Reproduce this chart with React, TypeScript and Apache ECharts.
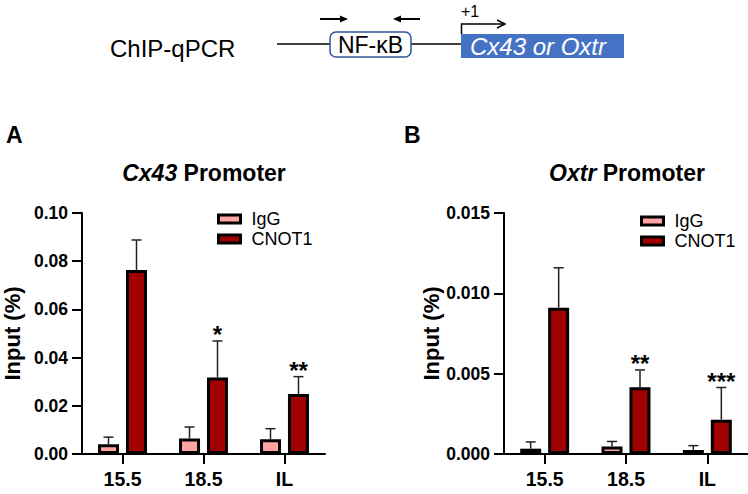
import React, { useEffect, useRef } from "react";
import * as echarts from "echarts";

const categories = ["15.5", "18.5", "IL"];
const seriesNames = ["IgG", "CNOT1"];

const cx43IgG = [0.004, 0.0064, 0.0061];
const cx43IgGErr = [0.003, 0.0048, 0.0044];
const cx43CNOT1 = [0.0763, 0.0317, 0.0249];
const cx43CNOT1Err = [0.0125, 0.0152, 0.0072];
const cx43Sig = ["", "*", "**"];

const oxtrIgG = [0.00033, 0.00047, 0.00025];
const oxtrIgGErr = [0.00042, 0.00031, 0.00027];
const oxtrCNOT1 = [0.0091, 0.00416, 0.00213];
const oxtrCNOT1Err = [0.00249, 0.00107, 0.00201];
const oxtrSig = ["", "**", "***"];

const cx43Ticks = { min: 0, max: 0.1, interval: 0.02, digits: 2 };
const oxtrTicks = { min: 0, max: 0.015, interval: 0.005, digits: 3 };

const FONT = '"Liberation Sans", Arial, Helvetica, sans-serif';
const IGG_COLOR = "#FFA3A3";
const CNOT1_COLOR = "#A00000";
const BAR_W = 21;
const BAR_OFFSET = 14;

function errSeries(axisIdx: number, vals: number[], errs: number[], offset: number, sig: string[]) {
  return {
    type: "custom",
    xAxisIndex: axisIdx,
    yAxisIndex: axisIdx,
    z: 1,
    silent: true,
    data: vals.map((v, i) => [i, v, errs[i]]),
    renderItem: (params: any, api: any) => {
      const i = api.value(0);
      const v = api.value(1);
      const e = api.value(2);
      const base = api.coord([i, v]);
      const top = api.coord([i, v + e]);
      const x = base[0] + offset;
      const children: any[] = [
        { type: "line", shape: { x1: x, y1: base[1], x2: x, y2: top[1] }, style: { stroke: "#222", lineWidth: 1.5 } },
        { type: "line", shape: { x1: x - 5, y1: top[1], x2: x + 5, y2: top[1] }, style: { stroke: "#222", lineWidth: 1.5 } },
      ];
      const s = sig[params.dataIndex];
      if (s) {
        children.push({
          type: "text",
          x: x,
          y: top[1] + 6,
          style: { text: s, fill: "#000", font: `bold 24px ${FONT}`, align: "center", verticalAlign: "bottom" },
        });
      }
      return { type: "group", children };
    },
  };
}

function barSeries(axisIdx: number, name: string, vals: number[], color: string) {
  return {
    type: "bar",
    name,
    xAxisIndex: axisIdx,
    yAxisIndex: axisIdx,
    data: vals,
    barWidth: BAR_W,
    barGap: "33%",
    z: 2,
    itemStyle: { color, borderColor: "#000", borderWidth: 3 },
  };
}

function yAxis(idx: number, t: any) {
  return {
    type: "value",
    gridIndex: idx,
    min: t.min,
    max: t.max,
    interval: t.interval,
    name: "Input (%)",
    nameLocation: "middle",
    nameRotate: 90,
    nameGap: 59,
    nameTextStyle: { fontSize: 22, fontWeight: "bold", color: "#000", fontFamily: FONT },
    splitLine: { show: false },
    axisLine: { show: true, lineStyle: { color: "#000", width: 2 } },
    axisTick: { show: true, length: 10, lineStyle: { color: "#000", width: 2 } },
    axisLabel: {
      margin: 14,
      fontSize: 17.5,
      fontWeight: "bold",
      color: "#000",
      fontFamily: FONT,
      formatter: (v: number) => v.toFixed(t.digits),
    },
  };
}

function xAxis(idx: number) {
  return {
    type: "category",
    gridIndex: idx,
    data: categories,
    axisLine: { show: true, lineStyle: { color: "#000", width: 2 } },
    axisTick: { show: true, alignWithLabel: true, length: 10, lineStyle: { color: "#000", width: 2 } },
    axisLabel: { margin: 15, fontSize: 19.5, fontWeight: "bold", color: "#000", fontFamily: FONT },
  };
}

function titleText(x: number, italicPart: string) {
  return {
    type: "text",
    x,
    y: 173,
    style: {
      text: `{i|${italicPart}} Promoter`,
      rich: { i: { fontStyle: "italic", fontWeight: "bold", fontSize: 23, fontFamily: FONT, fill: "#000" } },
      font: `bold 23px ${FONT}`,
      fill: "#000",
      align: "center",
      verticalAlign: "middle",
    },
  };
}

export default function App() {
  const ref = useRef<HTMLDivElement>(null);
  useEffect(() => {
    if (!ref.current) return;
    const chart = echarts.init(ref.current, undefined, { renderer: "svg" });
    const legendBase = {
      orient: "vertical",
      data: seriesNames.map((n) => ({ name: n, icon: "rect" })),
      itemWidth: 22,
      itemHeight: 8,
      itemGap: 2,
      selectedMode: false,
      textStyle: { fontSize: 18, color: "#000", fontFamily: FONT, padding: [0, 0, 0, 6] },
      itemStyle: { borderColor: "#000", borderWidth: 3 },
    };
    chart.setOption({
      animation: false,
      backgroundColor: "#fff",
      grid: [
        { left: 82, top: 213, width: 243, height: 241 },
        { left: 504, top: 213, width: 244, height: 241 },
      ],
      xAxis: [xAxis(0), xAxis(1)],
      yAxis: [yAxis(0, cx43Ticks), yAxis(1, oxtrTicks)],
      legend: [
        { ...legendBase, left: 212, top: 205 },
        { ...legendBase, left: 635, top: 207 },
      ],
      series: [
        barSeries(0, "IgG", cx43IgG, IGG_COLOR),
        barSeries(0, "CNOT1", cx43CNOT1, CNOT1_COLOR),
        errSeries(0, cx43IgG, cx43IgGErr, -BAR_OFFSET, ["", "", ""]),
        errSeries(0, cx43CNOT1, cx43CNOT1Err, BAR_OFFSET, cx43Sig),
        barSeries(1, "IgG", oxtrIgG, IGG_COLOR),
        barSeries(1, "CNOT1", oxtrCNOT1, CNOT1_COLOR),
        errSeries(1, oxtrIgG, oxtrIgGErr, -BAR_OFFSET, ["", "", ""]),
        errSeries(1, oxtrCNOT1, oxtrCNOT1Err, BAR_OFFSET, oxtrSig),
      ],
      graphic: [
        { type: "text", x: 110, y: 48, style: { text: "ChIP-qPCR", font: `24px ${FONT}`, fill: "#000", verticalAlign: "middle" } },
        { type: "line", shape: { x1: 277, y1: 44, x2: 330, y2: 44 }, style: { stroke: "#000", lineWidth: 1.5 } },
        { type: "line", shape: { x1: 411, y1: 44, x2: 461, y2: 44 }, style: { stroke: "#000", lineWidth: 1.5 } },
        { type: "rect", shape: { x: 330, y: 32, width: 81, height: 25, r: 6 }, style: { fill: "#fff", stroke: "#2F5597", lineWidth: 1.5 } },
        { type: "text", x: 370.5, y: 45, style: { text: "NF-κB", font: `23px ${FONT}`, fill: "#000", align: "center", verticalAlign: "middle" } },
        { type: "rect", shape: { x: 461, y: 34, width: 163, height: 24 }, style: { fill: "#4472C4" } },
        { type: "text", x: 470, y: 46.5, style: { text: "Cx43 or Oxtr", font: `italic 24px ${FONT}`, fill: "#fff", verticalAlign: "middle" } },
        { type: "polyline", shape: { points: [[461.5, 34], [461.5, 24], [504, 24]] }, style: { stroke: "#000", lineWidth: 1.5, fill: null } },
        { type: "polyline", shape: { points: [[497, 20], [505, 24], [497, 28]] }, style: { stroke: "#000", lineWidth: 1.5, fill: null } },
        { type: "text", x: 461, y: 11, style: { text: "+1", font: `16px ${FONT}`, fill: "#000", verticalAlign: "middle" } },
        { type: "line", shape: { x1: 320, y1: 19, x2: 342, y2: 19 }, style: { stroke: "#000", lineWidth: 2 } },
        { type: "polygon", shape: { points: [[340, 15.5], [348, 19], [340, 22.5]] }, style: { fill: "#000" } },
        { type: "line", shape: { x1: 399, y1: 19, x2: 420, y2: 19 }, style: { stroke: "#000", lineWidth: 2 } },
        { type: "polygon", shape: { points: [[401, 15.5], [393, 19], [401, 22.5]] }, style: { fill: "#000" } },
        { type: "text", x: 6, y: 135, style: { text: "A", font: `bold 23px ${FONT}`, fill: "#000", verticalAlign: "middle" } },
        { type: "text", x: 404, y: 135, style: { text: "B", font: `bold 23px ${FONT}`, fill: "#000", verticalAlign: "middle" } },
        titleText(204, "Cx43"),
        titleText(627, "Oxtr"),
      ],
    });
    return () => chart.dispose();
  }, []);
  return <div ref={ref} style={{ position: "fixed", left: 0, top: 0, width: 748, height: 494 }} />;
}
